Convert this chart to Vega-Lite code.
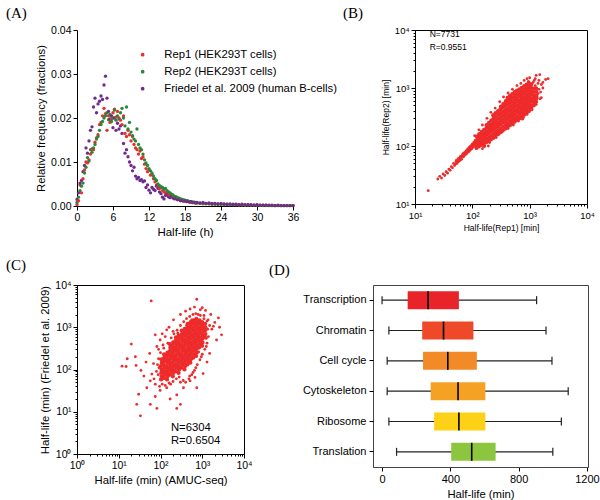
{
 "$schema": "https://vega.github.io/schema/vega-lite/v6.json",
 "padding": 5,
 "background": "white",
 "config": {
  "font": "Liberation Sans",
  "view": {"stroke": "black", "strokeWidth": 1},
  "axis": {"domainColor": "black", "tickColor": "black", "labelColor": "black", "titleColor": "black", "grid": false, "labelFont": "Liberation Sans", "titleFont": "Liberation Sans", "labelFontSize": 10.5, "titleFontSize": 11.3, "titleFontWeight": "normal", "tickSize": 4, "labelFlush": false, "labelOverlap": false},
  "title": {"font": "Liberation Serif", "fontSize": 15, "fontWeight": "normal", "anchor": "start", "frame": "group", "color": "black"}
 },
 "datasets": {
  "bcore": [
{"x":118,"y":92},{"x":121,"y":105},{"x":119,"y":118},{"x":123,"y":132},{"x":120,"y":146},
{"x":130,"y":98},{"x":134,"y":112},{"x":131,"y":127},{"x":135,"y":143},{"x":132,"y":160},
{"x":143,"y":104},{"x":147,"y":120},{"x":144,"y":136},{"x":148,"y":155},{"x":146,"y":175},
{"x":158,"y":110},{"x":162,"y":127},{"x":159,"y":145},{"x":163,"y":166},{"x":160,"y":190},{"x":161,"y":100},
{"x":174,"y":115},{"x":178,"y":134},{"x":175,"y":155},{"x":179,"y":178},{"x":176,"y":204},{"x":177,"y":230},
{"x":192,"y":122},{"x":196,"y":142},{"x":193,"y":165},{"x":197,"y":190},{"x":194,"y":218},{"x":195,"y":250},
{"x":211,"y":130},{"x":215,"y":152},{"x":212,"y":177},{"x":216,"y":205},{"x":213,"y":236},{"x":214,"y":275},
{"x":232,"y":138},{"x":236,"y":162},{"x":233,"y":190},{"x":237,"y":220},{"x":234,"y":255},{"x":235,"y":300},{"x":231,"y":340},
{"x":255,"y":150},{"x":259,"y":175},{"x":256,"y":205},{"x":260,"y":238},{"x":257,"y":275},{"x":258,"y":320},{"x":254,"y":370},
{"x":281,"y":160},{"x":285,"y":188},{"x":282,"y":220},{"x":286,"y":255},{"x":283,"y":295},{"x":284,"y":345},{"x":280,"y":400},
{"x":309,"y":172},{"x":313,"y":200},{"x":310,"y":235},{"x":314,"y":272},{"x":311,"y":315},{"x":312,"y":368},{"x":308,"y":430},{"x":315,"y":480},
{"x":340,"y":185},{"x":344,"y":215},{"x":341,"y":252},{"x":345,"y":292},{"x":342,"y":338},{"x":343,"y":395},{"x":339,"y":460},{"x":346,"y":530},
{"x":374,"y":198},{"x":378,"y":230},{"x":375,"y":268},{"x":379,"y":312},{"x":376,"y":362},{"x":377,"y":420},{"x":373,"y":490},{"x":380,"y":570},
{"x":412,"y":212},{"x":416,"y":246},{"x":413,"y":286},{"x":417,"y":332},{"x":414,"y":386},{"x":415,"y":448},{"x":411,"y":520},{"x":418,"y":610},{"x":410,"y":680},
{"x":453,"y":228},{"x":457,"y":264},{"x":454,"y":306},{"x":458,"y":355},{"x":455,"y":412},{"x":456,"y":478},{"x":452,"y":555},{"x":459,"y":645},{"x":451,"y":730},
{"x":498,"y":245},{"x":502,"y":283},{"x":499,"y":328},{"x":503,"y":380},{"x":500,"y":440},{"x":501,"y":510},{"x":497,"y":590},{"x":504,"y":685},{"x":496,"y":790},
{"x":548,"y":262},{"x":552,"y":302},{"x":549,"y":350},{"x":553,"y":405},{"x":550,"y":470},{"x":551,"y":545},{"x":547,"y":630},{"x":554,"y":730},{"x":546,"y":850},
{"x":603,"y":280},{"x":607,"y":322},{"x":604,"y":374},{"x":608,"y":432},{"x":605,"y":500},{"x":606,"y":580},{"x":602,"y":670},{"x":609,"y":780},{"x":601,"y":900},
{"x":664,"y":300},{"x":668,"y":345},{"x":665,"y":398},{"x":669,"y":460},{"x":666,"y":532},{"x":667,"y":615},{"x":663,"y":712},{"x":670,"y":825},{"x":662,"y":950},
{"x":730,"y":320},{"x":734,"y":368},{"x":731,"y":425},{"x":735,"y":490},{"x":732,"y":565},{"x":733,"y":655},{"x":729,"y":757},{"x":736,"y":875},{"x":728,"y":1010},
{"x":803,"y":345},{"x":807,"y":395},{"x":804,"y":455},{"x":808,"y":525},{"x":805,"y":605},{"x":806,"y":700},{"x":802,"y":810},{"x":809,"y":935},{"x":801,"y":1080},
{"x":884,"y":372},{"x":888,"y":425},{"x":885,"y":490},{"x":889,"y":565},{"x":886,"y":650},{"x":887,"y":750},{"x":883,"y":865},{"x":890,"y":1000},{"x":882,"y":1150},
{"x":973,"y":400},{"x":977,"y":460},{"x":974,"y":530},{"x":978,"y":610},{"x":975,"y":700},{"x":976,"y":805},{"x":972,"y":930},{"x":979,"y":1070},{"x":970,"y":1220},
{"x":1068,"y":440},{"x":1072,"y":505},{"x":1069,"y":580},{"x":1073,"y":665},{"x":1070,"y":765},{"x":1071,"y":880},{"x":1067,"y":1010},{"x":1066,"y":1160},
{"x":1178,"y":500},{"x":1182,"y":570},{"x":1179,"y":650},{"x":1183,"y":745},{"x":1180,"y":855},{"x":1181,"y":980},
{"x":1298,"y":580},{"x":1302,"y":660},{"x":1299,"y":750},{"x":1303,"y":860},{"x":1300,"y":990}
  ],
  "bfringe": [
{"x":17,"y":17},{"x":25,"y":27},{"x":27,"y":30},{"x":29,"y":28},{"x":31,"y":33},{"x":33,"y":31},{"x":35,"y":36},{"x":37,"y":34},{"x":39,"y":40},{"x":41,"y":38},{"x":43,"y":44},{"x":45,"y":42},{"x":47,"y":50},{"x":49,"y":46},{"x":51,"y":49},{"x":52,"y":54},{"x":53,"y":57},{"x":54,"y":50},{"x":56,"y":53},{"x":57,"y":60},{"x":58,"y":62},{"x":59,"y":55},{"x":61,"y":57},{"x":62,"y":66},{"x":63,"y":64},{"x":64,"y":60},{"x":65,"y":59},{"x":67,"y":70},{"x":68,"y":67},{"x":69,"y":74},{"x":70,"y":65},{"x":71,"y":68},{"x":72,"y":76},{"x":74,"y":73},{"x":75,"y":70},{"x":76,"y":79},{"x":78,"y":82},{"x":79,"y":74},{"x":80,"y":75},{"x":81,"y":85},{"x":83,"y":88},{"x":84,"y":79},{"x":86,"y":80},{"x":87,"y":90},{"x":88,"y":95},{"x":89,"y":82},{"x":91,"y":86},{"x":92,"y":97},{"x":94,"y":100},{"x":95,"y":88},{"x":97,"y":90},{"x":98,"y":102},{"x":100,"y":108},{"x":101,"y":99},{"x":103,"y":95},{"x":104,"y":108},{"x":106,"y":115},{"x":107,"y":104},{"x":109,"y":100},{"x":111,"y":112},{"x":112,"y":125},{"x":114,"y":118},{"x":115,"y":106},{"x":117,"y":112},
{"x":190,"y":100},{"x":130,"y":160},{"x":150,"y":90},{"x":200,"y":115},{"x":260,"y":140},{"x":330,"y":175},{"x":420,"y":200},{"x":520,"y":230},{"x":640,"y":270},{"x":780,"y":310},{"x":900,"y":350},{"x":1100,"y":420},{"x":1300,"y":520},{"x":1500,"y":650},{"x":1600,"y":680},{"x":1400,"y":800},{"x":1700,"y":1000},{"x":1900,"y":1400},{"x":2100,"y":1450},{"x":1500,"y":1700},{"x":1300,"y":1650},{"x":1200,"y":1350},{"x":1000,"y":1500},{"x":900,"y":1450},{"x":800,"y":1350},{"x":700,"y":1200},{"x":600,"y":1100},{"x":500,"y":950},{"x":420,"y":820},{"x":350,"y":700},{"x":300,"y":580},{"x":250,"y":450},{"x":210,"y":380},{"x":180,"y":300},{"x":150,"y":230},{"x":130,"y":190},{"x":110,"y":150},{"x":1600,"y":1150},{"x":1400,"y":1200},{"x":1250,"y":1100},{"x":1150,"y":1250},{"x":1450,"y":950},{"x":1350,"y":700},{"x":1450,"y":1350},{"x":1700,"y":1250},{"x":1250,"y":1450},{"x":950,"y":1300},{"x":1550,"y":850},{"x":1200,"y":620},{"x":1000,"y":470},{"x":750,"y":290},{"x":560,"y":660},{"x":380,"y":610},{"x":230,"y":290}
  ],
  "ccore": [
{"x":103,"y":58},{"x":107,"y":69},{"x":104,"y":83},{"x":106,"y":100},{"x":102,"y":120},{"x":108,"y":145},{"x":105,"y":174},
{"x":121,"y":63},{"x":125,"y":76},{"x":122,"y":91},{"x":124,"y":110},{"x":120,"y":132},{"x":126,"y":159},{"x":123,"y":191},{"x":122,"y":229},
{"x":143,"y":58},{"x":147,"y":69},{"x":144,"y":83},{"x":146,"y":100},{"x":142,"y":120},{"x":148,"y":145},{"x":145,"y":174},{"x":144,"y":209},{"x":147,"y":251},
{"x":168,"y":76},{"x":172,"y":91},{"x":169,"y":110},{"x":171,"y":132},{"x":167,"y":159},{"x":173,"y":191},{"x":170,"y":229},{"x":169,"y":275},{"x":172,"y":331},{"x":168,"y":398},
{"x":197,"y":69},{"x":203,"y":83},{"x":199,"y":100},{"x":202,"y":120},{"x":196,"y":145},{"x":204,"y":174},{"x":200,"y":209},{"x":198,"y":251},{"x":203,"y":302},{"x":197,"y":363},{"x":201,"y":437},
{"x":231,"y":91},{"x":237,"y":110},{"x":233,"y":132},{"x":236,"y":159},{"x":230,"y":191},{"x":238,"y":229},{"x":234,"y":275},{"x":232,"y":331},{"x":237,"y":398},{"x":231,"y":479},{"x":235,"y":575},
{"x":271,"y":83},{"x":279,"y":100},{"x":273,"y":120},{"x":277,"y":145},{"x":270,"y":174},{"x":280,"y":209},{"x":275,"y":251},{"x":272,"y":302},{"x":278,"y":363},{"x":271,"y":437},{"x":276,"y":525},{"x":274,"y":631},
{"x":319,"y":110},{"x":329,"y":132},{"x":321,"y":159},{"x":327,"y":191},{"x":318,"y":229},{"x":330,"y":275},{"x":324,"y":331},{"x":320,"y":398},{"x":328,"y":479},{"x":319,"y":575},{"x":325,"y":692},{"x":323,"y":832},
{"x":375,"y":100},{"x":386,"y":120},{"x":377,"y":145},{"x":383,"y":174},{"x":373,"y":209},{"x":387,"y":251},{"x":380,"y":302},{"x":376,"y":363},{"x":385,"y":437},{"x":374,"y":525},{"x":382,"y":631},{"x":379,"y":759},{"x":381,"y":912},
{"x":441,"y":132},{"x":453,"y":159},{"x":443,"y":191},{"x":451,"y":229},{"x":439,"y":275},{"x":455,"y":331},{"x":447,"y":398},{"x":442,"y":479},{"x":452,"y":575},{"x":440,"y":692},{"x":449,"y":832},{"x":446,"y":1000},{"x":448,"y":1202},
{"x":518,"y":145},{"x":532,"y":174},{"x":520,"y":209},{"x":530,"y":251},{"x":516,"y":302},{"x":534,"y":363},{"x":525,"y":437},{"x":519,"y":525},{"x":531,"y":631},{"x":517,"y":759},{"x":527,"y":912},{"x":524,"y":1096},{"x":526,"y":1318},
{"x":609,"y":191},{"x":625,"y":229},{"x":612,"y":275},{"x":622,"y":331},{"x":606,"y":398},{"x":628,"y":479},{"x":617,"y":575},{"x":611,"y":692},{"x":623,"y":832},{"x":608,"y":1000},{"x":619,"y":1202},{"x":615,"y":1445},
{"x":715,"y":209},{"x":733,"y":251},{"x":718,"y":302},{"x":730,"y":363},{"x":712,"y":437},{"x":736,"y":525},{"x":724,"y":631},{"x":717,"y":759},{"x":731,"y":912},{"x":714,"y":1096},{"x":727,"y":1318},{"x":722,"y":1585},
{"x":840,"y":331},{"x":862,"y":398},{"x":844,"y":479},{"x":858,"y":575},{"x":837,"y":692},{"x":865,"y":832},{"x":851,"y":1000},{"x":843,"y":1202},{"x":859,"y":1445},
{"x":988,"y":363},{"x":1012,"y":437},{"x":992,"y":525},{"x":1008,"y":631},{"x":985,"y":759},{"x":1015,"y":912},{"x":1000,"y":1096},{"x":994,"y":1318},
{"x":1160,"y":575},{"x":1190,"y":692},{"x":1165,"y":832},{"x":1185,"y":1000},{"x":1172,"y":1202}
  ],
  "cfringe": [
{"x":60,"y":4200},{"x":740,"y":4600},{"x":20,"y":400},{"x":12,"y":120},{"x":15,"y":118},{"x":16,"y":180},{"x":25,"y":200},{"x":26,"y":125},{"x":34,"y":95},{"x":30,"y":26},{"x":27,"y":15},{"x":33,"y":8},{"x":57,"y":15},{"x":82,"y":12},{"x":75,"y":23},{"x":57,"y":54},{"x":47,"y":37},{"x":62,"y":78},{"x":68,"y":138},{"x":55,"y":240},{"x":82,"y":350},{"x":98,"y":500},{"x":75,"y":660},{"x":141,"y":870},{"x":205,"y":1500},{"x":300,"y":2000},{"x":510,"y":2700},{"x":1000,"y":2900},{"x":1380,"y":1500},{"x":1850,"y":1050},{"x":2440,"y":1660},{"x":2900,"y":660},{"x":2200,"y":500},{"x":1500,"y":240},{"x":1300,"y":150},{"x":1050,"y":80},{"x":670,"y":65},{"x":510,"y":54},{"x":355,"y":37},{"x":245,"y":25},{"x":170,"y":20},{"x":141,"y":37},{"x":118,"y":60},{"x":98,"y":32},{"x":245,"y":12},{"x":300,"y":15},{"x":740,"y":37},
{"x":400,"y":50},{"x":480,"y":60},{"x":560,"y":75},{"x":650,"y":95},{"x":760,"y":130},{"x":880,"y":170},{"x":1000,"y":230},{"x":1150,"y":300},{"x":1300,"y":420},{"x":1400,"y":600},{"x":1250,"y":350},{"x":950,"y":200},{"x":700,"y":110},{"x":600,"y":85},{"x":500,"y":70},{"x":350,"y":55},{"x":300,"y":50},
{"x":100,"y":250},{"x":120,"y":320},{"x":150,"y":420},{"x":180,"y":560},{"x":210,"y":700},{"x":250,"y":850},{"x":300,"y":1100},{"x":360,"y":1350},{"x":420,"y":1600},{"x":500,"y":1800},{"x":600,"y":2000},{"x":700,"y":2100},{"x":800,"y":2000},{"x":900,"y":1900},{"x":1100,"y":1600},{"x":1300,"y":1400},{"x":1500,"y":1100},{"x":1700,"y":900},
{"x":70,"y":60},{"x":80,"y":90},{"x":85,"y":130},{"x":90,"y":180},{"x":75,"y":45},{"x":95,"y":40},{"x":110,"y":45},{"x":130,"y":42},{"x":160,"y":48},{"x":200,"y":52},{"x":240,"y":60},{"x":280,"y":66},
{"x":1200,"y":2500},{"x":900,"y":2600},{"x":650,"y":3000},{"x":1600,"y":2000},{"x":2000,"y":1300},{"x":2600,"y":1000},{"x":130,"y":600},{"x":90,"y":300},{"x":45,"y":150},{"x":40,"y":70},{"x":110,"y":700},{"x":160,"y":1000},{"x":400,"y":2400},
{"x":88,"y":75},{"x":92,"y":110},{"x":115,"y":380},{"x":175,"y":45},{"x":420,"y":1100},{"x":260,"y":720},{"x":1350,"y":900},{"x":1250,"y":550},{"x":820,"y":260},{"x":1100,"y":1900},{"x":560,"y":1500},{"x":200,"y":800}
  ]
 },
 "spacing": 19,
 "resolve": {"scale": {"color": "independent"}, "legend": {"color": "independent"}},
 "vconcat": [
  {
   "bounds": "flush",
   "spacing": 122,
   "resolve": {"scale": {"color": "independent"}, "legend": {"color": "independent"}},
   "hconcat": [
    {
     "width": 216, "height": 176,
     "title": {"text": "(A)", "dx": -71, "offset": 4},
     "view": {"stroke": null},
     "data": {"values": [
{"h":0,"r1":0.0003,"r2":0.0008,"fr":0.0015},{"h":0.25,"r1":0.0012,"r2":0.0020,"fr":0.0030},{"h":0.5,"r1":0.0048,"r2":0.0035,"fr":0.0052},{"h":0.75,"r1":0.0030,"r2":0.0045,"fr":0.0058},{"h":1,"r1":0.0062,"r2":0.0052,"fr":0.0078},{"h":1.25,"r1":0.0082,"r2":0.0075,"fr":0.0092},{"h":1.5,"r1":0.0100,"r2":0.0088,"fr":0.0132},{"h":1.75,"r1":0.0098,"r2":0.0110,"fr":0.0120},{"h":2,"r1":0.0105,"r2":0.0102,"fr":0.0148},{"h":2.25,"r1":0.0118,"r2":0.0128,"fr":0.0172},{"h":2.5,"r1":0.0130,"r2":0.0122,"fr":0.0180},{"h":2.75,"r1":0.0128,"r2":0.0132,"fr":0.0225},{"h":3,"r1":0.0145,"r2":0.0140,"fr":0.0245},{"h":3.25,"r1":0.0155,"r2":0.0152,"fr":0.0212},{"h":3.5,"r1":0.0162,"r2":0.0158,"fr":0.0232},{"h":3.75,"r1":0.0185,"r2":0.0172,"fr":0.0238},{"h":4,"r1":0.0190,"r2":0.0185,"fr":0.0250},{"h":4.25,"r1":0.0205,"r2":0.0192,"fr":0.0242},{"h":4.5,"r1":0.0222,"r2":0.0200,"fr":0.0275},{"h":4.75,"r1":0.0210,"r2":0.0205,"fr":0.0295},{"h":5,"r1":0.0172,"r2":0.0212,"fr":0.0245},{"h":5.25,"r1":0.0205,"r2":0.0196,"fr":0.0215},{"h":5.5,"r1":0.0190,"r2":0.0208,"fr":0.0198},{"h":5.75,"r1":0.0198,"r2":0.0192,"fr":0.0205},{"h":6,"r1":0.0212,"r2":0.0200,"fr":0.0178},{"h":6.25,"r1":0.0220,"r2":0.0218,"fr":0.0200},{"h":6.5,"r1":0.0202,"r2":0.0195,"fr":0.0172},{"h":6.75,"r1":0.0215,"r2":0.0205,"fr":0.0188},{"h":7,"r1":0.0200,"r2":0.0198,"fr":0.0175},{"h":7.25,"r1":0.0195,"r2":0.0212,"fr":0.0182},{"h":7.5,"r1":0.0185,"r2":0.0222,"fr":0.0165},{"h":7.75,"r1":0.0205,"r2":0.0200,"fr":0.0142},{"h":8,"r1":0.0165,"r2":0.0182,"fr":0.0120},{"h":8.25,"r1":0.0158,"r2":0.0225,"fr":0.0128},{"h":8.5,"r1":0.0172,"r2":0.0175,"fr":0.0112},{"h":8.75,"r1":0.0162,"r2":0.0190,"fr":0.0100},{"h":9,"r1":0.0148,"r2":0.0168,"fr":0.0092},{"h":9.25,"r1":0.0158,"r2":0.0160,"fr":0.0080},{"h":9.5,"r1":0.0140,"r2":0.0152,"fr":0.0088},{"h":9.75,"r1":0.0132,"r2":0.0148,"fr":0.0068},{"h":10,"r1":0.0128,"r2":0.0175,"fr":0.0062},{"h":10.25,"r1":0.0118,"r2":0.0140,"fr":0.0065},{"h":10.5,"r1":0.0125,"r2":0.0132,"fr":0.0058},{"h":10.75,"r1":0.0108,"r2":0.0128,"fr":0.0060},{"h":11,"r1":0.0112,"r2":0.0118,"fr":0.0055},{"h":11.25,"r1":0.0095,"r2":0.0105,"fr":0.0057},{"h":11.5,"r1":0.0085,"r2":0.0098,"fr":0.0042},{"h":11.75,"r1":0.0078,"r2":0.0092,"fr":0.0048},{"h":12,"r1":0.0082,"r2":0.0085,"fr":0.0036},{"h":12.25,"r1":0.0070,"r2":0.0080,"fr":0.0030},{"h":12.5,"r1":0.0072,"r2":0.0075,"fr":0.0042},{"h":12.75,"r1":0.0062,"r2":0.0068,"fr":0.0038},{"h":13,"r1":0.0055,"r2":0.0062,"fr":0.0035},{"h":13.25,"r1":0.0048,"r2":0.0058,"fr":0.0045},{"h":13.5,"r1":0.0045,"r2":0.0050,"fr":0.0040},{"h":13.75,"r1":0.0040,"r2":0.0046,"fr":0.0032},{"h":14,"r1":0.0042,"r2":0.0044,"fr":0.0028},{"h":14.25,"r1":0.0035,"r2":0.0042,"fr":0.0020},{"h":14.5,"r1":0.0032,"r2":0.0038,"fr":0.0016},{"h":14.75,"r1":0.0030,"r2":0.0040,"fr":0.0024},{"h":15,"r1":0.0028,"r2":0.0035,"fr":0.0026},{"h":15.25,"r1":0.0025,"r2":0.0032,"fr":0.0021},{"h":15.5,"r1":0.0024,"r2":0.0030,"fr":0.0019},{"h":15.75,"r1":0.0022,"r2":0.0027,"fr":0.0022},{"h":16,"r1":0.0020,"r2":0.0025,"fr":0.0018},{"h":16.25,"r1":0.0019,"r2":0.0022,"fr":0.0016},{"h":16.5,"r1":0.0018,"r2":0.0021,"fr":0.0017},{"h":16.75,"r1":0.0016,"r2":0.0019,"fr":0.0014},{"h":17,"r1":0.0015,"r2":0.0018,"fr":0.0015},{"h":17.25,"r1":0.0014,"r2":0.0016,"fr":0.0012},{"h":17.5,"r1":0.0013,"r2":0.0015,"fr":0.0013},{"h":17.75,"r1":0.0012,"r2":0.0014,"fr":0.0011},{"h":18,"r1":0.0012,"r2":0.0013,"fr":0.0012},{"h":18.25,"r1":0.0010,"r2":0.0012,"fr":0.0010},{"h":18.5,"r1":0.0011,"r2":0.0011,"fr":0.0011},{"h":18.75,"r1":0.0009,"r2":0.0010,"fr":0.0009},{"h":19,"r1":0.0009,"r2":0.0010,"fr":0.0010},{"h":19.25,"r1":0.0008,"r2":0.0009,"fr":0.0008},{"h":19.5,"r1":0.0008,"r2":0.0008,"fr":0.0009},{"h":19.75,"r1":0.0007,"r2":0.0008,"fr":0.0007},{"h":20,"r1":0.0007,"r2":0.0007,"fr":0.0008},{"h":20.5,"r1":0.0006,"r2":0.0006,"fr":0.0007},{"h":21,"r1":0.0005,"r2":0.0006,"fr":0.0008},{"h":21.5,"r1":0.0006,"r2":0.0005,"fr":0.0006},{"h":22,"r1":0.0005,"r2":0.0005,"fr":0.0007},{"h":22.5,"r1":0.0004,"r2":0.0005,"fr":0.0006},{"h":23,"r1":0.0005,"r2":0.0004,"fr":0.0006},{"h":23.5,"r1":0.0004,"r2":0.0004,"fr":0.0005},{"h":24,"r1":0.0004,"r2":0.0004,"fr":0.0006},{"h":24.5,"r1":0.0003,"r2":0.0004,"fr":0.0005},{"h":25,"r1":0.0004,"r2":0.0003,"fr":0.0004},{"h":25.5,"r1":0.0003,"r2":0.0003,"fr":0.0005},{"h":26,"r1":0.0003,"r2":0.0003,"fr":0.0004},{"h":26.5,"r1":0.0003,"r2":0.0003,"fr":0.0004},{"h":27,"r1":0.0002,"r2":0.0003,"fr":0.0003},{"h":27.5,"r1":0.0003,"r2":0.0002,"fr":0.0004},{"h":28,"r1":0.0002,"r2":0.0002,"fr":0.0003},{"h":28.5,"r1":0.0002,"r2":0.0003,"fr":0.0003},{"h":29,"r1":0.0002,"r2":0.0002,"fr":0.0003},{"h":29.5,"r1":0.0002,"r2":0.0002,"fr":0.0002},{"h":30,"r1":0.0002,"r2":0.0002,"fr":0.0003},{"h":30.5,"r1":0.0002,"r2":0.0001,"fr":0.0002},{"h":31,"r1":0.0001,"r2":0.0002,"fr":0.0002},{"h":31.5,"r1":0.0002,"r2":0.0001,"fr":0.0002},{"h":32,"r1":0.0001,"r2":0.0001,"fr":0.0002},{"h":32.5,"r1":0.0001,"r2":0.0001,"fr":0.0002},{"h":33,"r1":0.0001,"r2":0.0001,"fr":0.0001},{"h":33.5,"r1":0.0001,"r2":0.0001,"fr":0.0002},{"h":34,"r1":0.0001,"r2":0.0001,"fr":0.0001},{"h":34.5,"r1":0.0001,"r2":0.0001,"fr":0.0001},{"h":35,"r1":0.0001,"r2":0.0001,"fr":0.0001},{"h":35.5,"r1":0.0001,"r2":0.0001,"fr":0.0001},{"h":36,"r1":0.0001,"r2":0.0001,"fr":0.0001}
     ]},
     "transform": [{"fold": ["r1", "r2", "fr"], "as": ["series", "freq"]}],
     "mark": {"type": "circle", "size": 11, "opacity": 1},
     "encoding": {
      "x": {"field": "h", "type": "quantitative", "scale": {"domain": [0, 36], "nice": false}, "axis": {"values": [0, 6, 12, 18, 24, 30, 36], "title": "Half-life (h)", "titleFontSize": 11.5}},
      "y": {"field": "freq", "type": "quantitative", "scale": {"domain": [0, 0.04], "nice": false}, "axis": {"values": [0, 0.01, 0.02, 0.03, 0.04], "format": ".2f", "title": "Relative frequency (fractions)", "titleFontSize": 11.3}},
      "color": {"field": "series", "type": "nominal", "scale": {"domain": ["r1", "r2", "fr"], "range": ["#ec2d2d", "#26883a", "#6e2a8c"]},
       "legend": {"orient": "none", "legendX": 60, "legendY": 19, "title": null, "labelFontSize": 11.3, "labelFont": "Liberation Sans", "labelColor": "black", "symbolSize": 14, "symbolType": "circle", "labelOffset": 16, "rowPadding": 5, "padding": 0, "labelLimit": 300,
        "labelExpr": "datum.label == 'r1' ? 'Rep1 (HEK293T cells)' : datum.label == 'r2' ? 'Rep2 (HEK293T cells)' : 'Friedel et al. 2009 (human B-cells)'"}}
     }
    },
    {
     "width": 172, "height": 174,
     "title": {"text": "(B)", "dx": -72, "offset": 4},
     "encoding": {
      "x": {"field": "x", "type": "quantitative", "scale": {"type": "log", "domain": [10, 10000], "nice": false},
       "axis": {"title": "Half-life(Rep1) [min]", "titleFontSize": 8.5, "labelFontSize": 9.5, "values": [10,20,30,40,50,60,70,80,90,100,200,300,400,500,600,700,800,900,1000,2000,3000,4000,5000,6000,7000,8000,9000,10000],
        "labelExpr": "datum.value==10?'10¹':datum.value==100?'10²':datum.value==1000?'10³':datum.value==10000?'10⁴':''",
        "tickSize": {"condition": {"test": "indexof([10,100,1000,10000], datum.value) >= 0", "value": 4}, "value": 2}}},
      "y": {"field": "y", "type": "quantitative", "scale": {"type": "log", "domain": [10, 10000], "nice": false},
       "axis": {"title": "Half-life(Rep2) [min]", "titleFontSize": 8.5, "labelFontSize": 9.5, "values": [10,20,30,40,50,60,70,80,90,100,200,300,400,500,600,700,800,900,1000,2000,3000,4000,5000,6000,7000,8000,9000,10000],
        "labelExpr": "datum.value==10?'10¹':datum.value==100?'10²':datum.value==1000?'10³':datum.value==10000?'10⁴':''",
        "tickSize": {"condition": {"test": "indexof([10,100,1000,10000], datum.value) >= 0", "value": 4}, "value": 2}}}
     },
     "layer": [
      {"data": {"name": "bfringe"}, "mark": {"type": "circle", "size": 8, "color": "#ee2a2a", "opacity": 1}},
      {"data": {"name": "bcore"}, "mark": {"type": "circle", "size": 17, "color": "#ee2a2a", "opacity": 1}},
      {
       "data": {"values": [{"t": "N=7731", "x": 18, "y": 8600}, {"t": "R=0.9551", "x": 18, "y": 5000}]},
       "mark": {"type": "text", "align": "left", "baseline": "middle", "fontSize": 8.5, "font": "Liberation Sans", "color": "black"},
       "encoding": {"text": {"field": "t"}}
      }
     ]
    }
   ]
  },
  {
   "bounds": "flush",
   "spacing": 129,
   "resolve": {"scale": {"color": "independent"}, "legend": {"color": "independent"}},
   "hconcat": [
    {
     "width": 167, "height": 169,
     "title": {"text": "(C)", "dx": -71, "offset": 7},
     "encoding": {
      "x": {"field": "x", "type": "quantitative", "scale": {"type": "log", "domain": [1, 10000], "nice": false},
       "axis": {"title": "Half-life (min) (AMUC-seq)", "values": [1,2,3,4,5,6,7,8,9,10,20,30,40,50,60,70,80,90,100,200,300,400,500,600,700,800,900,1000,2000,3000,4000,5000,6000,7000,8000,9000,10000],
        "labelExpr": "datum.value==1?'10⁰':datum.value==10?'10¹':datum.value==100?'10²':datum.value==1000?'10³':datum.value==10000?'10⁴':''",
        "tickSize": {"condition": {"test": "indexof([1,10,100,1000,10000], datum.value) >= 0", "value": 4}, "value": 2}}},
      "y": {"field": "y", "type": "quantitative", "scale": {"type": "log", "domain": [1, 10000], "nice": false},
       "axis": {"title": "Half-life (min) (Friedel et al. 2009)", "values": [1,2,3,4,5,6,7,8,9,10,20,30,40,50,60,70,80,90,100,200,300,400,500,600,700,800,900,1000,2000,3000,4000,5000,6000,7000,8000,9000,10000],
        "labelExpr": "datum.value==1?'10⁰':datum.value==10?'10¹':datum.value==100?'10²':datum.value==1000?'10³':datum.value==10000?'10⁴':''",
        "tickSize": {"condition": {"test": "indexof([1,10,100,1000,10000], datum.value) >= 0", "value": 4}, "value": 2}}}
     },
     "layer": [
      {"data": {"name": "cfringe"}, "mark": {"type": "circle", "size": 8, "color": "#ee2a2a", "opacity": 1}},
      {"data": {"name": "ccore"}, "mark": {"type": "circle", "size": 18, "color": "#ee2a2a", "opacity": 1}},
      {
       "data": {"values": [{"t": "N=6304", "x": 178, "y": 4.1}, {"t": "R=0.6504", "x": 178, "y": 2.05}]},
       "mark": {"type": "text", "align": "left", "baseline": "middle", "fontSize": 11.3, "font": "Liberation Sans", "color": "black"},
       "encoding": {"text": {"field": "t"}}
      }
     ]
    },
    {
     "width": 215, "height": 182,
     "title": {"text": "(D)", "dx": -104, "offset": 7},
     "view": {"stroke": "#444"},
     "data": {"values": [
      {"c": "Transcription", "min": 0, "q1": 150, "med": 270, "q3": 450, "max": 905},
      {"c": "Chromatin", "min": 40, "q1": 235, "med": 360, "q3": 535, "max": 960},
      {"c": "Cell cycle", "min": 30, "q1": 240, "med": 385, "q3": 555, "max": 995},
      {"c": "Cytoskeleton", "min": 30, "q1": 285, "med": 445, "q3": 605, "max": 1090},
      {"c": "Ribosome", "min": 40, "q1": 305, "med": 450, "q3": 605, "max": 1050},
      {"c": "Translation", "min": 85, "q1": 405, "med": 525, "q3": 665, "max": 1000}
     ]},
     "encoding": {
      "y": {"field": "c", "type": "nominal", "sort": null, "scale": {"paddingInner": 0, "paddingOuter": 0}, "axis": {"title": null, "domain": false, "labelPadding": 3, "labelFontSize": 11}}
     },
     "layer": [
      {"mark": {"type": "rule", "color": "#222", "strokeWidth": 1.2},
       "encoding": {"x": {"field": "min", "type": "quantitative", "scale": {"domain": [-53, 1206], "nice": false, "zero": false}, "axis": {"values": [0, 200, 400, 600, 800, 1000, 1200], "format": "d", "title": "Half-life (min)", "labelFontSize": 11, "titleFontSize": 11.3, "domainColor": "#444"}}, "x2": {"field": "max"}}},
      {"mark": {"type": "bar", "size": 18},
       "encoding": {"x": {"field": "q1", "type": "quantitative"}, "x2": {"field": "q3"},
        "color": {"field": "c", "type": "nominal", "scale": {"domain": ["Transcription", "Chromatin", "Cell cycle", "Cytoskeleton", "Ribosome", "Translation"], "range": ["#e8242a", "#ee4a2a", "#f28a28", "#f5a224", "#fcd116", "#8cc63f"]}, "legend": null}}},
      {"mark": {"type": "tick", "color": "black", "thickness": 1.6, "size": 18, "opacity": 1},
       "encoding": {"x": {"field": "med", "type": "quantitative"}}},
      {"mark": {"type": "tick", "color": "#222", "thickness": 1.2, "size": 8, "opacity": 1},
       "encoding": {"x": {"field": "min", "type": "quantitative"}}},
      {"mark": {"type": "tick", "color": "#222", "thickness": 1.2, "size": 8, "opacity": 1},
       "encoding": {"x": {"field": "max", "type": "quantitative"}}}
     ]
    }
   ]
  }
 ]
}
